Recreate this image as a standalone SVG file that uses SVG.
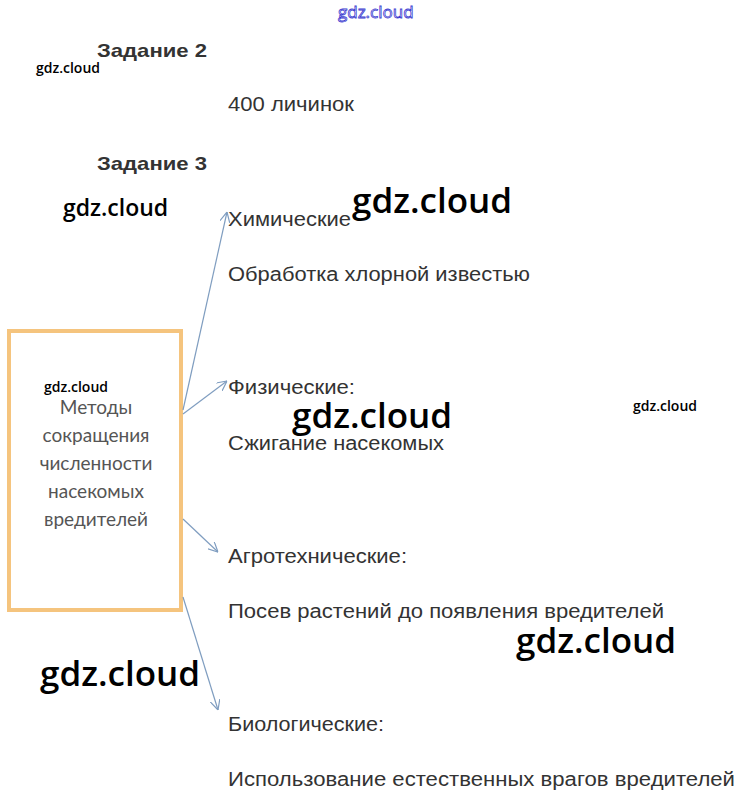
<svg xmlns="http://www.w3.org/2000/svg" width="750" height="812" viewBox="0 0 750 812">
<defs>
<style>
.t{font-family:"Liberation Sans",Arial,sans-serif;font-size:20px;fill:#333}
.h{font-family:"Liberation Sans",Arial,sans-serif;font-size:19px;font-weight:bold;fill:#333}
.w{font-family:"Open Sans",sans-serif;font-weight:600;fill:#000}
.ws{font-size:14px}
.wm{font-size:23px}
.wl{font-size:35px}
.b{font-family:Lato,sans-serif;font-size:19px;fill:#555;text-anchor:middle}
.c{stroke:#7f9dc0;stroke-width:1.2;fill:none;marker-end:url(#ah)}
</style>
<marker id="ah" viewBox="0 0 10 10" refX="10" refY="5" markerWidth="10" markerHeight="10" markerUnits="userSpaceOnUse" orient="auto">
<path d="M0,0 L10,5 L0,10" fill="none" stroke="#7f9dc0" stroke-width="1.2"/>
</marker>
</defs>
<rect width="750" height="812" fill="#fff"/>
<text x="338" y="18" font-family="'Open Sans',sans-serif" font-size="17" fill="none" stroke="#3a3ad0" stroke-width="0.8">gdz.cloud</text>
<text class="h" x="97" y="57" textLength="110" lengthAdjust="spacingAndGlyphs">Задание 2</text>
<text class="w ws" x="36" y="73">gdz.cloud</text>
<text class="t" x="228" y="111" textLength="126" lengthAdjust="spacingAndGlyphs">400 личинок</text>
<text class="h" x="97" y="170" textLength="110" lengthAdjust="spacingAndGlyphs">Задание 3</text>
<text class="w wm" x="63" y="216">gdz.cloud</text>
<g id="node-box">
<rect x="9" y="331" width="172" height="279" fill="#fff" stroke="#f5c47e" stroke-width="4"/>
<text class="b" x="96" y="414">Методы</text>
<text class="b" x="96" y="442">сокращения</text>
<text class="b" x="96" y="470">численности</text>
<text class="b" x="96" y="498">насекомых</text>
<text class="b" x="96" y="526">вредителей</text>
</g>
<g id="connectors">
<line class="c" x1="183" y1="410" x2="227" y2="212"/>
<line class="c" x1="183" y1="414" x2="227" y2="381"/>
<line class="c" x1="183" y1="519" x2="218" y2="552"/>
<line class="c" x1="183" y1="597" x2="218" y2="710"/>
</g>
<g id="node-chem">
<text class="t" x="228" y="226" textLength="123" lengthAdjust="spacingAndGlyphs">Химические</text>
<text class="t" x="228" y="281" textLength="302" lengthAdjust="spacingAndGlyphs">Обработка хлорной известью</text>
</g>
<g id="node-phys">
<text class="t" x="228" y="394" textLength="127" lengthAdjust="spacingAndGlyphs">Физические:</text>
<text class="t" x="228" y="450" textLength="216" lengthAdjust="spacingAndGlyphs">Сжигание насекомых</text>
</g>
<g id="node-agro">
<text class="t" x="228" y="563" textLength="179" lengthAdjust="spacingAndGlyphs">Агротехнические:</text>
<text class="t" x="228" y="618" textLength="436" lengthAdjust="spacingAndGlyphs">Посев растений до появления вредителей</text>
</g>
<g id="node-bio">
<text class="t" x="228" y="731" textLength="156" lengthAdjust="spacingAndGlyphs">Биологические:</text>
<text class="t" x="228" y="786" textLength="507" lengthAdjust="spacingAndGlyphs">Использование естественных врагов вредителей</text>
</g>
<text class="w wl" x="352" y="213">gdz.cloud</text>
<text class="w ws" x="44" y="392">gdz.cloud</text>
<text class="w wl" x="292" y="428">gdz.cloud</text>
<text class="w ws" x="633" y="411">gdz.cloud</text>
<text class="w wl" x="516" y="653">gdz.cloud</text>
<text class="w wl" x="40" y="686">gdz.cloud</text>
</svg>
